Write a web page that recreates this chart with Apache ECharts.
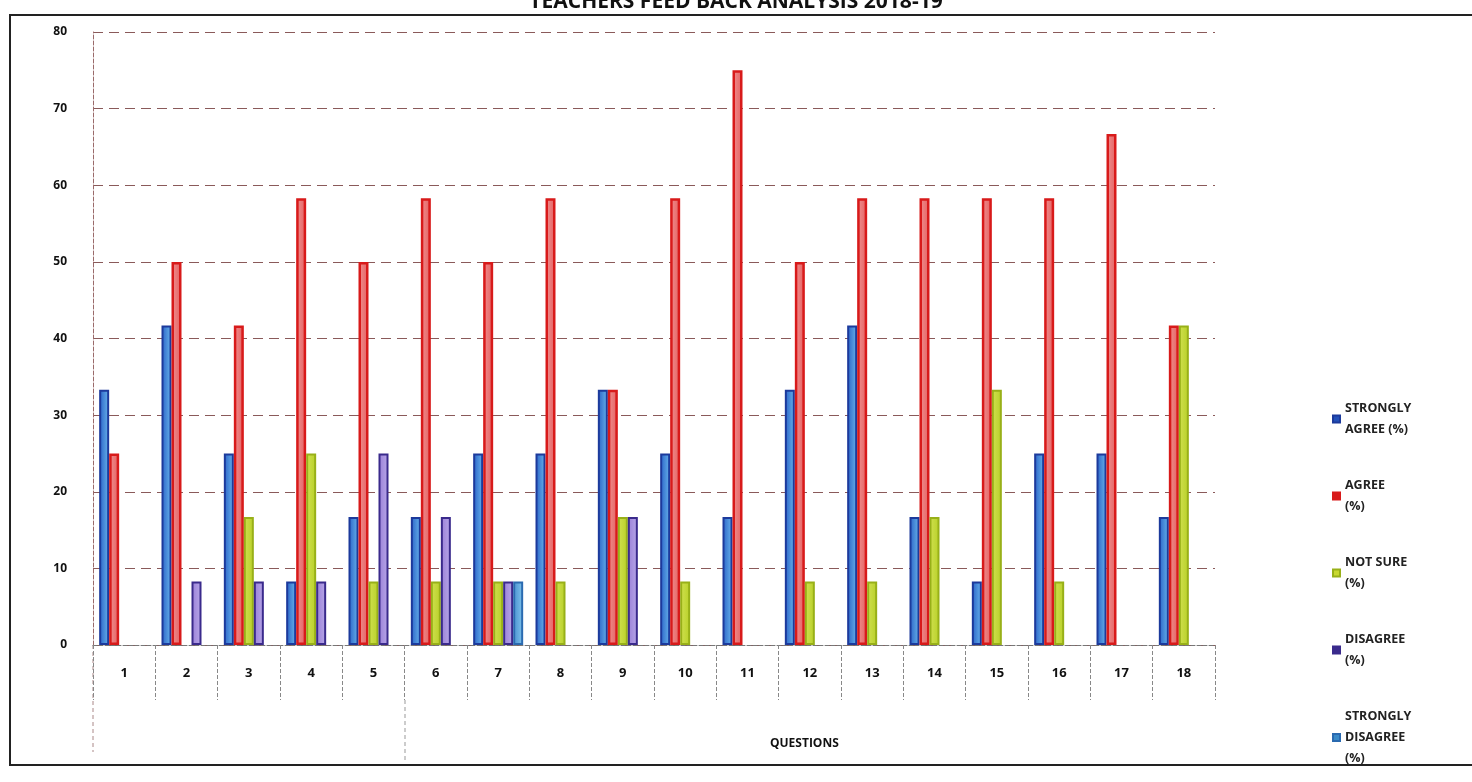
<!DOCTYPE html>
<html>
<head>
<meta charset="utf-8">
<script src="https://cdn.jsdelivr.net/npm/echarts@6/dist/echarts.min.js"></script>
<style>html,body{margin:0;padding:0;background:#fff;}#c{width:1472px;height:782px;}</style>
</head>
<body>
<div id="c"></div>
<script>
const questions = ['1','2','3','4','5','6','7','8','9','10','11','12','13','14','15','16','17','18'];
const stronglyAgree    = [33.3,41.7,25,8.3,16.7,16.7,25,25,33.3,25,16.7,33.3,41.7,16.7,8.3,25,25,16.7];
const agree            = [25,50,41.7,58.3,50,58.3,50,58.3,33.3,58.3,75,50,58.3,58.3,58.3,58.3,66.7,41.7];
const notSure          = [null,null,16.7,25,8.3,8.3,8.3,8.3,16.7,8.3,null,8.3,8.3,16.7,33.3,8.3,null,41.7];
const disagree         = [null,8.3,8.3,8.3,25,16.7,8.3,null,16.7,null,null,null,null,null,null,null,null,null];
const stronglyDisagree = [null,null,null,null,null,null,8.3,null,null,null,null,null,null,null,null,null,null,null];
const seriesNames = ['STRONGLY\nAGREE (%)','AGREE\n(%)','NOT SURE\n(%)','DISAGREE\n(%)','STRONGLY\nDISAGREE\n(%)'];
const yTicks = {min:0, max:80, interval:10};

function grad(a,b){return new echarts.graphic.LinearGradient(0,0,1,0,[{offset:0,color:a},{offset:1,color:b}]);}
const styles = [
  {fill:grad('#2a62c8','#68b4ea'), border:'#1c3a9c', legend:'#2250b8'},
  {fill:grad('#f09090','#e46060'), border:'#d81a1a', legend:'#d81a1a'},
  {fill:grad('#d0e050','#b8d028'), border:'#98b018', legend:'#c8d830'},
  {fill:grad('#9a80d8','#b8a8e8'), border:'#3a2a8c', legend:'#3a2a8c'},
  {fill:grad('#4a90d0','#80c4ec'), border:'#2a6ab0', legend:'#3a8ac8'}
];
const dataSets = [stronglyAgree, agree, notSure, disagree, stronglyDisagree];
const font = '"Open Sans", "DejaVu Sans", sans-serif';

const chart = echarts.init(document.getElementById('c'));
chart.setOption({
  backgroundColor:'#fff',
  animation:false,
  color: styles.map(s=>s.legend),
  title:{
    text:'TEACHERS FEED BACK ANALYSIS 2018-19',
    left:'center', top:-13,
    textStyle:{fontFamily:font, fontSize:21, fontWeight:'bold', color:'#111'}
  },
  legend:{
    orient:'vertical', left:1332, top:398, padding:0, itemWidth:7, itemHeight:7, itemGap:35,
    icon:'rect', align:'left',
    textStyle:{fontFamily:font, fontSize:12.5, fontWeight:'bold', color:'#222', lineHeight:21},
    data: seriesNames.map((n,i)=>({name:n, itemStyle:{color:styles[i].legend}}))
  },
  grid:{left:93, right:257, top:32, bottom:137, containLabel:false},
  xAxis:{
    type:'category', data:questions,
    axisLine:{show:true, lineStyle:{color:'#777', type:'dashed', width:1}},
    axisTick:{show:true, length:55, lineStyle:{color:'#888', type:'dashed'}},
    axisLabel:{margin:22, fontFamily:font, fontSize:13, fontWeight:'bold', color:'#111'}
  },
  yAxis:{
    type:'value', min:yTicks.min, max:yTicks.max, interval:yTicks.interval,
    axisLine:{show:true, lineStyle:{color:'#9a6a6a', type:'dashed'}},
    axisTick:{show:false},
    axisLabel:{margin:26, fontFamily:font, fontSize:12, fontWeight:'bold', color:'#111'},
    splitLine:{show:true, lineStyle:{color:'#8a5a5a', type:[10,6], width:1}}
  },
  series: dataSets.map((d,i)=>({
    name:seriesNames[i], type:'bar', data:d, barWidth:10, barGap:'0%',
    itemStyle:{color:styles[i].fill, borderColor:styles[i].border, borderWidth:i===1?2.5:2}
  })),
  graphic:[
    {type:'rect', shape:{x:10, y:15, width:1500, height:750}, style:{fill:null, stroke:'#222', lineWidth:2}, silent:true},
    {type:'line', shape:{x1:93, y1:645, x2:93, y2:752}, style:{stroke:'#aa8888', lineDash:[4,3], lineWidth:1}},
    {type:'line', shape:{x1:405, y1:700, x2:405, y2:762}, style:{stroke:'#999', lineDash:[4,3], lineWidth:1}},
    {type:'text', left:770, top:738, style:{text:'QUESTIONS', font:'bold 12px '+font, fill:'#111'}}
  ]
});
</script>
</body>
</html>
